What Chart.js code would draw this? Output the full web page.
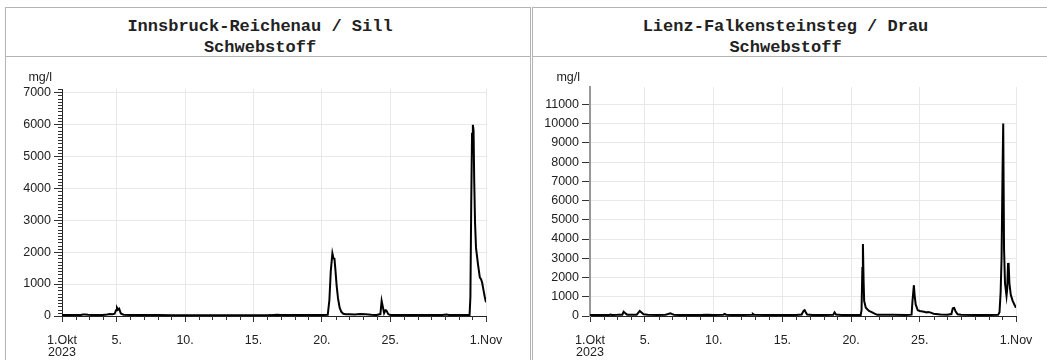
<!DOCTYPE html>
<html>
<head>
<meta charset="utf-8">
<script src="https://cdn.jsdelivr.net/npm/chart.js@4.4.0/dist/chart.umd.min.js"></script>
<style>
  body { margin: 0; background: #fff; width: 1047px; height: 360px; overflow: hidden; position: relative; }
  .panel { position: absolute; top: 7px; height: 400px; border: 1px solid #b4b4b4; box-sizing: border-box; background: #fff; }
  #p1 { left: 5px; width: 526px; }
  #p2 { left: 532px; width: 530px; }
  .title { height: 49px; box-sizing: border-box; border-bottom: 1px solid #b4b4b4; padding-top: 8px;
           text-align: center; font: bold 17px/21px "Liberation Mono", "Courier New", monospace; color: #222; }
  #p1 .title { padding-right: 16px; }
  #p2 .title { width: 528px; padding-right: 23px; }
  canvas { display: block; }
</style>
</head>
<body>
<div class="panel" id="p1">
  <div class="title">Innsbruck-Reichenau / Sill<br>Schwebstoff</div>
  <canvas id="c1" width="524" height="303"></canvas>
</div>
<div class="panel" id="p2">
  <div class="title">Lienz-Falkensteinsteg / Drau<br>Schwebstoff</div>
  <canvas id="c2" width="514" height="303"></canvas>
</div>
<script>
// x axis: days since 1 Oct 2023 00:00
const majorDays = [0, 4, 9, 14, 19, 24, 31];
const majorLabels = [['1.Okt', '2023'], '5.', '10.', '15.', '20.', '25.', '1.Nov'];

// Innsbruck-Reichenau / Sill, Schwebstoff mg/l
const innsbruckDays = [0, 0.5, 1.0, 1.4, 1.5, 1.7, 1.9, 2.2, 2.5, 3.0, 3.3, 3.5, 3.7, 3.85, 3.95, 4.02, 4.1, 4.18, 4.3, 4.5,
  5, 6, 7, 8, 9, 10, 11, 12, 13, 14, 15, 15.5, 15.7, 16, 17, 18, 19, 19.43, 19.55, 19.65, 19.77, 19.85, 19.92, 19.98,
  20.08, 20.18, 20.3, 20.42, 20.57, 20.75, 21.0, 21.4, 21.8, 22.2, 22.6, 23.0, 23.28, 23.37, 23.45, 23.55, 23.65, 23.72,
  23.85, 24, 25, 26, 27, 27.8, 28.1, 28.3, 29, 29.8, 29.86, 29.92, 29.98, 30.04, 30.09, 30.14, 30.2, 30.27, 30.42,
  30.55, 30.64, 30.72, 30.8, 30.9, 31.0];
const innsbruckValues = [30, 28, 32, 30, 45, 50, 40, 35, 30, 35, 45, 60, 55, 70, 180, 260, 200, 230, 80, 40,
  35, 30, 28, 25, 22, 20, 20, 22, 20, 22, 25, 35, 40, 30, 28, 30, 30, 35, 500, 1400, 1960, 1800, 1790, 1500,
  950, 550, 260, 130, 70, 55, 55, 50, 60, 55, 40, 30, 60, 470, 300, 90, 180, 170,
  60, 35, 30, 28, 30, 35, 45, 30, 28, 30, 600, 3500, 5700, 5980, 5800, 4200, 2900, 2130, 1600,
  1200, 1150, 1040, 850, 620, 430];

// Lienz-Falkensteinsteg / Drau, Schwebstoff mg/l
const lienzDays = [0, 0.5, 1.0, 1.4, 1.5, 1.6, 2.0, 2.35, 2.45, 2.55, 2.7, 3.0, 3.4, 3.55, 3.62, 3.75, 3.9, 4.2, 4.9,
  5.5, 5.75, 5.85, 5.95, 6.1, 6.5, 7, 8, 8.5, 9, 9.7, 9.8, 9.9, 10.3, 11, 11.8, 11.85, 11.95, 13, 14, 15, 15.4,
  15.55, 15.62, 15.7, 15.8, 16.2, 17, 17.7, 17.8, 17.9, 18.3, 19, 19.7, 19.76, 19.82, 19.86, 19.91, 19.95, 20.07,
  20.3, 20.5, 20.67, 20.9, 21.3, 22, 23, 23.4, 23.47, 23.57, 23.62, 23.7, 23.85, 24, 24.3, 24.5, 24.6, 24.75, 25.0,
  25.5, 26, 26.3, 26.4, 26.5, 26.6, 26.75, 27, 28, 29, 29.7, 29.8, 29.88, 29.95, 30.02, 30.07, 30.13, 30.2, 30.31,
  30.36, 30.42, 30.46, 30.52, 30.62, 30.75, 30.88, 31.0];
const lienzValues = [50, 55, 50, 55, 80, 55, 60, 70, 220, 150, 70, 60, 70, 200, 260, 180, 90, 60, 55,
  70, 120, 140, 110, 70, 55, 50, 50, 60, 50, 70, 110, 70, 55, 50, 70, 110, 60, 50, 50, 55, 80,
  280, 310, 200, 80, 55, 50, 70, 190, 80, 55, 50, 55, 300, 2500, 3740, 1800, 780, 430,
  260, 200, 140, 60, 70, 60, 55, 70, 800, 1600, 1100, 600, 300, 260, 220, 180, 210, 190, 120,
  80, 60, 100, 400, 420, 250, 90, 60, 55, 50, 60, 200, 1200, 3000, 7500, 10000, 3500, 1700, 1040,
  1400, 2700, 2760, 1700, 1100, 800, 600, 430];

const tickFont = { family: '"Liberation Sans", Arial, sans-serif', size: 12.5 };

// minor ticks and unit label above the y axis
const extrasPlugin = {
  id: 'extras',
  afterDraw(chart, args, opts) {
    const ctx = chart.ctx;
    const x = chart.scales.x, y = chart.scales.y;
    ctx.save();
    ctx.strokeStyle = '#333';
    ctx.lineWidth = 1;
    ctx.beginPath();
    for (let d = 0; d <= 31; d++) {
      if (majorDays.includes(d)) continue;
      const px = Math.round(x.getPixelForValue(d)) + 0.5;
      ctx.moveTo(px, y.bottom);
      ctx.lineTo(px, y.bottom + 4);
    }
    if (opts.yMinorStep) {
      for (let v = opts.yMinorStep; v <= y.max; v += opts.yMinorStep) {
        if (v % 1000 === 0) continue;
        const py = Math.round(y.getPixelForValue(v)) + 0.5;
        ctx.moveTo(x.left - 4, py);
        ctx.lineTo(x.left + 1, py);
      }
    }
    ctx.stroke();
    ctx.fillStyle = '#222';
    ctx.font = '12.5px "Liberation Sans", Arial, sans-serif';
    ctx.textAlign = 'right';
    ctx.textBaseline = 'middle';
    ctx.fillText(opts.unit, x.left - 10, opts.unitY);
    ctx.restore();
  }
};

function makeChart(id, days, values, yMax, yWidth, padTop, padRight, yMinorStep, yBorder) {
  const ctx = document.getElementById(id).getContext('2d');
  return new Chart(ctx, {
    type: 'line',
    data: {
      datasets: [{
        data: days.map((d, i) => ({ x: d, y: values[i] })),
        borderColor: '#000',
        borderWidth: 2,
        pointRadius: 0,
        tension: 0,
        fill: false
      }]
    },
    options: {
      responsive: false,
      animation: false,
      layout: { padding: { top: padTop, right: padRight, left: 0, bottom: 0 } },
      plugins: {
        legend: { display: false },
        tooltip: { enabled: false },
        extras: { unit: 'mg/l', unitY: 21, yMinorStep: yMinorStep }
      },
      scales: {
        x: {
          type: 'linear',
          min: 0,
          max: 31,
          afterBuildTicks: scale => { scale.ticks = majorDays.map(v => ({ value: v })); },
          afterFit: scale => { scale.height = 44; },
          ticks: {
            autoSkip: false,
            maxRotation: 0,
            padding: 12,
            color: '#222',
            font: { ...tickFont, lineHeight: 1.0 },
            callback: v => majorLabels[majorDays.indexOf(v)]
          },
          grid: { color: '#e8e8e8', tickColor: '#333', tickLength: 6 },
          border: { color: '#222', width: 1 }
        },
        y: {
          min: 0,
          max: yMax,
          afterBuildTicks: scale => {
            const t = [];
            for (let v = 0; v <= yMax; v += 1000) t.push({ value: v });
            scale.ticks = t;
          },
          afterFit: scale => { scale.width = yWidth; },
          ticks: { padding: 3, color: '#222', font: tickFont, callback: v => String(v) },
          grid: { color: '#e8e8e8', tickColor: '#333', tickLength: 8 },
          border: yBorder
        }
      }
    },
    plugins: [extrasPlugin]
  });
}

makeChart('c1', innsbruckDays, innsbruckValues, 7100, 56, 32, 44, 100, { color: '#222', width: 1 });
makeChart('c2', lienzDays, lienzValues, 11900, 57, 30, 31, 0, { color: '#999', width: 2 });
</script>
</body>
</html>
